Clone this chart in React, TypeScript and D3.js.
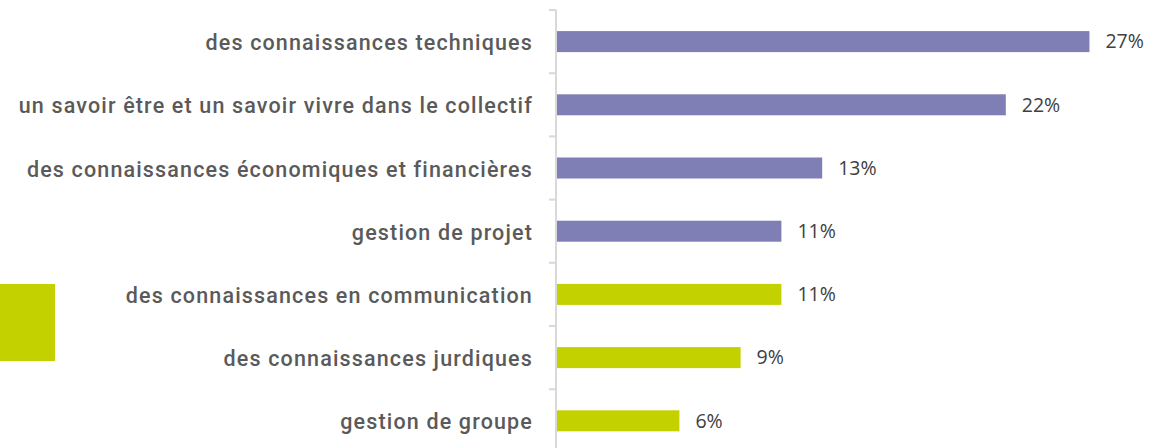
import React, { useEffect, useRef } from 'react'
import * as d3 from 'd3'

// categories, top to bottom
const categories = [
  'des connaissances techniques',
  'un savoir être et un savoir vivre dans le collectif',
  'des connaissances économiques et financières',
  'gestion de projet',
  'des connaissances en communication',
  'des connaissances jurdiques',
  'gestion de groupe',
]
// bar lengths (percent)
const values = [26.1, 22, 13, 11, 11, 9, 6]
// printed labels
const valueLabels = ['27%', '22%', '13%', '11%', '11%', '9%', '6%']
// colour group per bar
const groups = ['a', 'a', 'a', 'a', 'b', 'b', 'b']

const PURPLE = '#7f7fb5'
const GREEN = '#c4d100'

export default function App() {
  const ref = useRef<SVGSVGElement>(null)

  useEffect(() => {
    const svg = d3.select(ref.current)
    svg.selectAll('*').remove()

    const width = 1149, height = 448
    const axisX = 556
    const step = 63.2
    const top = 10

    var x = d3.scaleLinear().domain([0, 30]).range([axisX + 1, axisX + 1 + 612])
    var y = d3.scaleBand().domain(categories).range([top, top + step * categories.length]).padding(0)
    var color = d3.scaleOrdinal<string>().domain(['a', 'b']).range([PURPLE, GREEN])
    const barH = 21

    // green decoration square on the left
    svg.append('rect')
      .attr('x', 0).attr('y', 284)
      .attr('width', 55).attr('height', 77)
      .attr('fill', GREEN)

    // vertical axis line
    svg.append('line')
      .attr('x1', axisX).attr('x2', axisX)
      .attr('y1', top).attr('y2', height)
      .attr('stroke', '#d9d9d9').attr('stroke-width', 2)

    // ticks at band boundaries
    const bounds = categories.map(c => y(c)!).concat([top + step * categories.length])
    svg.selectAll('.tick')
      .data(bounds.filter(b => b <= height))
      .enter().append('line')
      .attr('class', 'tick')
      .attr('x1', axisX - 7).attr('x2', axisX)
      .attr('y1', d => d).attr('y2', d => d)
      .attr('stroke', '#d9d9d9').attr('stroke-width', 2)

    // bars
    svg.selectAll('.bar')
      .data(categories)
      .enter().append('rect')
      .attr('class', 'bar')
      .attr('x', x(0))
      .attr('y', d => y(d)! + (step - barH) / 2)
      .attr('width', (d, i) => x(values[i]) - x(0))
      .attr('height', barH)
      .attr('fill', (d, i) => color(groups[i]))

    // value labels
    svg.selectAll('.val')
      .data(categories)
      .enter().append('text')
      .attr('class', 'val')
      .attr('x', (d, i) => x(values[i]) + 16)
      .attr('y', d => y(d)! + step / 2)
      .attr('dy', '0.35em')
      .style('font-family', '"Open Sans", sans-serif')
      .style('font-size', '19.5px')
      .style('fill', '#404040')
      .text((d, i) => valueLabels[i])

    // category labels
    svg.selectAll('.cat')
      .data(categories)
      .enter().append('text')
      .attr('class', 'cat')
      .attr('x', axisX - 23)
      .attr('y', d => y(d)! + step / 2 + 1)
      .attr('dy', '0.35em')
      .attr('text-anchor', 'end')
      .style('font-family', 'Roboto, sans-serif')
      .style('font-size', '21.5px')
      .style('font-weight', 500)
      .style('letter-spacing', '1.15px')
      .style('fill', '#5a5a5a')
      .text(d => d)
  }, [])

  return (
    <div style={{ position: 'absolute', left: 0, top: 0 }}>
      <svg ref={ref} width={1149} height={448} style={{ display: 'block' }} />
    </div>
  )
}
